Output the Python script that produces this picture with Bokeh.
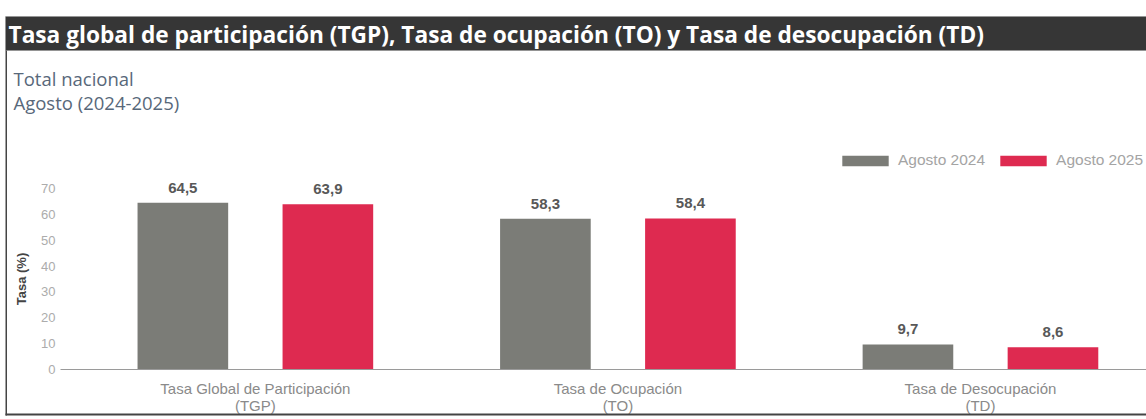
from bokeh.plotting import figure
from bokeh.models import ColumnDataSource, Range1d, FixedTicker, Label, BoxAnnotation
from bokeh.transform import dodge
from bokeh.core.properties import value
from bokeh.embed import file_html
from bokeh.resources import INLINE

# ---- data ----
title_text = "Tasa global de participación (TGP), Tasa de ocupación (TO) y Tasa de desocupación (TD)"
subtitle_1 = "Total nacional"
subtitle_2 = "Agosto (2024-2025)"
categories = ["Tasa Global de Participación\n(TGP)", "Tasa de Ocupación\n(TO)", "Tasa de Desocupación\n(TD)"]
series_names = ["Agosto 2024", "Agosto 2025"]
values_2024 = [64.5, 58.3, 9.7]
values_2025 = [63.9, 58.4, 8.6]
y_ticks = [0, 10, 20, 30, 40, 50, 60, 70]
y_axis_label = "Tasa (%)"

# ---- layout constants ----
W, H = 1146, 419
X_START, X_END = -0.703, 2.458
Y_START, Y_END = -19.33, 142.69
GRAY = "#7b7c77"
RED = "#de2a50"


def px_x(px):
    return X_START + px * (X_END - X_START) / W


def px_y(py):
    return Y_END - py * (Y_END - Y_START) / H


positions = list(range(len(categories)))
src = ColumnDataSource(dict(
    pos=positions,
    v2024=values_2024,
    v2025=values_2025,
    l2024=[f"{v:.1f}".replace(".", ",") for v in values_2024],
    l2025=[f"{v:.1f}".replace(".", ",") for v in values_2025],
))

p = figure(width=W, height=H, x_range=Range1d(X_START, X_END), y_range=Range1d(Y_START, Y_END),
           toolbar_location=None, output_backend="svg",
           min_border_left=0, min_border_right=0, min_border_top=0, min_border_bottom=0)
p.outline_line_color = None
p.xgrid.grid_line_color = None
p.ygrid.grid_line_color = None

p.vbar(x=dodge("pos", -0.2), top="v2024", width=0.25, source=src,
       fill_color=GRAY, line_color=None, legend_label=series_names[0])
p.vbar(x=dodge("pos", 0.2), top="v2025", width=0.25, source=src,
       fill_color=RED, line_color=None, legend_label=series_names[1])

for off, col, vcol in [(-0.2, "l2024", "v2024"), (0.2, "l2025", "v2025")]:
    p.text(x=dodge("pos", off), y=vcol, text=col, source=src,
           y_offset=-10, text_align="center", text_baseline="bottom",
           text_font=value("Liberation Sans"), text_font_style="bold",
           text_font_size="15px", text_color="#585858")

# y axis (drawn inside the canvas at a fixed location)
ya = p.yaxis[0]
ya.fixed_location = px_x(70)
ya.bounds = (y_ticks[0], y_ticks[-1])
ya.ticker = FixedTicker(ticks=y_ticks)
ya.axis_label = y_axis_label
ya.axis_label_text_font = "Liberation Sans"
ya.axis_label_text_font_style = "bold"
ya.axis_label_text_font_size = "13px"
ya.axis_label_text_color = "#444444"
ya.axis_label_standoff = 9
ya.axis_line_color = None
ya.major_tick_line_color = None
ya.major_tick_out = 0
ya.major_tick_in = 0
ya.minor_tick_line_color = None
ya.major_label_text_font = "Liberation Sans"
ya.major_label_text_font_size = "13px"
ya.major_label_text_color = "#acacac"
ya.major_label_standoff = 15

# x axis
xa = p.xaxis[0]
xa.fixed_location = 0
xa.bounds = (px_x(60), X_END)
xa.ticker = FixedTicker(ticks=positions)
xa.major_label_overrides = dict(zip(positions, categories))
xa.axis_line_color = "#9a9a9a"
xa.major_tick_line_color = None
xa.major_tick_out = 0
xa.major_tick_in = 0
xa.minor_tick_line_color = None
xa.major_label_text_font = "Liberation Sans"
xa.major_label_text_font_size = "15px"
xa.major_label_text_line_height = 1.0
xa.major_label_text_color = "#8a8a8a"
xa.major_label_standoff = 10

# legend
lg = p.legend[0]
lg.orientation = "horizontal"
lg.location = (836, 250)
lg.padding = 0
lg.spacing = 9
lg.border_line_color = None
lg.background_fill_alpha = 0
lg.glyph_width = 58
lg.glyph_height = 13
lg.label_height = 14
lg.label_standoff = 4
lg.label_text_font = "Liberation Sans"
lg.label_text_font_size = "15.5px"
lg.label_text_color = "#a4a4a4"

# header and frame decorations
p.add_layout(BoxAnnotation(left=px_x(5), right=px_x(W), top=px_y(16), bottom=px_y(50),
                           fill_color="#363636", fill_alpha=1, line_color="#8a8a8a", line_width=1))
p.add_layout(BoxAnnotation(left=px_x(5), right=px_x(6.5), top=px_y(50), bottom=px_y(415),
                           fill_color="#444444", fill_alpha=1, line_color=None))
p.add_layout(BoxAnnotation(left=px_x(5), right=px_x(W), top=px_y(413), bottom=px_y(415),
                           fill_color="#444444", fill_alpha=1, line_color=None))
p.add_layout(Label(x=px_x(8), y=px_y(34), text=title_text, text_color="white",
                   text_font="Open Sans", text_font_style="bold", text_font_size="22.7px",
                   text_baseline="middle"))
p.add_layout(Label(x=px_x(13), y=px_y(78), text=subtitle_1, text_color="#58687a",
                   text_font="Open Sans", text_font_size="18.5px", text_baseline="middle"))
p.add_layout(Label(x=px_x(13), y=px_y(102), text=subtitle_2, text_color="#58687a",
                   text_font="Open Sans", text_font_size="18.5px", text_baseline="middle"))

open("out.html", "w").write(file_html(p, INLINE))
